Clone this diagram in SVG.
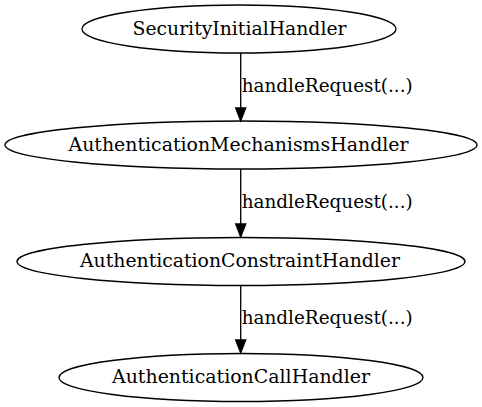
<svg xmlns="http://www.w3.org/2000/svg" width="482" height="407" viewBox="0 0 482 407">
<style>
.n ellipse{fill:none;stroke:#000;stroke-width:1.33}
.n text,.lbl{font-family:"DejaVu Serif",serif;font-size:18.5px;fill:#000;text-anchor:middle}
.lbl{text-anchor:start}
.e line{stroke:#000;stroke-width:1.33}
.e polygon{fill:#000;stroke:#000;stroke-width:1.33}
</style>
<rect width="482" height="407" fill="#fff"/>
<g id="n1" class="n"><ellipse cx="239" cy="29" rx="157" ry="24"/><text x="239.5" y="34.5" textLength="214" lengthAdjust="spacingAndGlyphs">SecurityInitialHandler</text></g>
<g id="n2" class="n"><ellipse cx="241" cy="145" rx="236" ry="24"/><text x="238.5" y="150.5" textLength="340" lengthAdjust="spacingAndGlyphs">AuthenticationMechanismsHandler</text></g>
<g id="n3" class="n"><ellipse cx="241" cy="261.5" rx="224" ry="24"/><text x="240" y="267" textLength="320" lengthAdjust="spacingAndGlyphs">AuthenticationConstraintHandler</text></g>
<g id="n4" class="n"><ellipse cx="241" cy="377.5" rx="182" ry="24"/><text x="241" y="383" textLength="258" lengthAdjust="spacingAndGlyphs">AuthenticationCallHandler</text></g>
<g id="edges" class="e">
<line x1="240.7" y1="53" x2="240.7" y2="108"/><polygon points="235.7,108 245.7,108 240.7,121"/>
<text class="lbl" x="241.7" y="92" textLength="171" lengthAdjust="spacingAndGlyphs">handleRequest(...)</text>
<line x1="240.7" y1="169" x2="240.7" y2="224"/><polygon points="235.7,224 245.7,224 240.7,237"/>
<text class="lbl" x="241.7" y="208" textLength="171" lengthAdjust="spacingAndGlyphs">handleRequest(...)</text>
<line x1="240.7" y1="285.5" x2="240.7" y2="340"/><polygon points="235.7,340 245.7,340 240.7,353"/>
<text class="lbl" x="241.7" y="324" textLength="171" lengthAdjust="spacingAndGlyphs">handleRequest(...)</text>
</g>
</svg>
